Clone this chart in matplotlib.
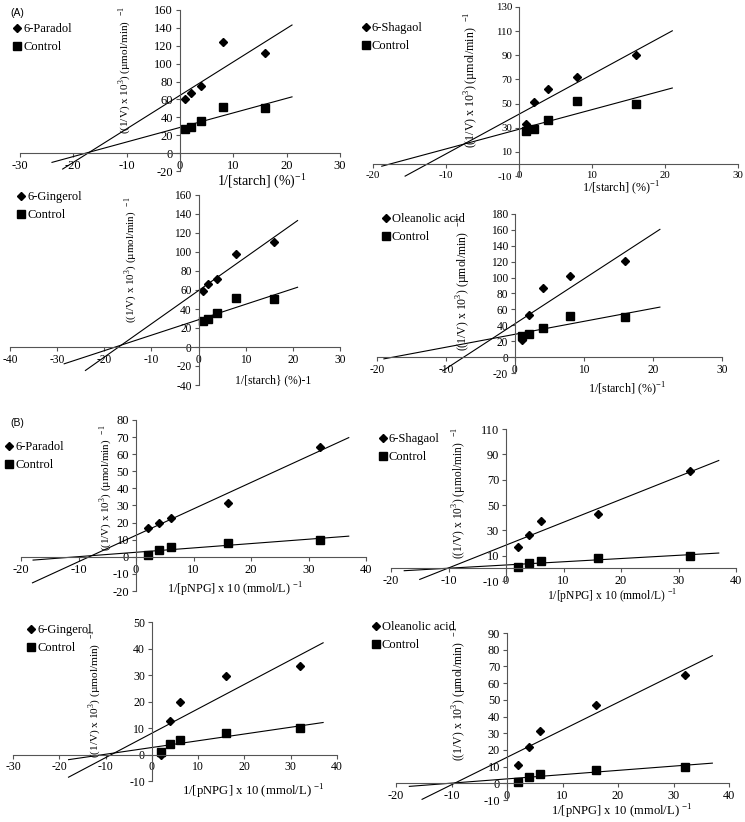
import numpy as np
import matplotlib
matplotlib.use("Agg")
import matplotlib.pyplot as plt
from matplotlib.lines import Line2D

plt.rcParams["font.family"] = ["Liberation Serif", "DejaVu Serif"]
plt.rcParams["mathtext.fontset"] = "custom"
plt.rcParams["mathtext.rm"] = "Liberation Serif"
plt.rcParams["axes.unicode_minus"] = False
plt.rcParams["font.size"] = 8

W, H = 745, 822

# (A) alpha-amylase: 1/[starch]
starch_x = [1, 2, 4, 8, 16]
starch_control = [27, 29, 36, 52, 50]
paradol_a = [61, 67, 75, 124, 112]
shagaol_a = [33, 51, 62, 72, 90]
gingerol_a = [59, 66, 72, 98, 111]
oleanolic_a = [22, 53, 87, 102, 121]

# (B) alpha-glucosidase: 1/[pNPG]
pnpg_x = [2, 4, 6, 16, 32]
pnpg_control = [1, 4, 5.5, 8, 10]
paradol_b = [17, 20, 22.5, 31.5, 64.5]
shagaol_b = [17, 26, 37, 43, 77]
gingerol_b = [0, 12.5, 20, 29.5, 33.5]
oleanolic_b = [11, 22, 31.5, 47, 65]

compounds = ["6-Paradol", "6-Shagaol", "6-Gingerol", "Oleanolic acid"] * 2

# trendline extents (forecast backward / forward)
line_start = [(-22, -24), (-15.6, -18.8), (-24, -28.5), (-10.5, -19),
              (-18, -17.9), (-15, -17.7), (-18, -18), (-15.3, -17.6)]
line_end = [21] * 4 + [37] * 4

xlab_a = "1/[starch] (%)$^{-1}$"
xlab_b = "1/[pNPG] x 10 (mmol/L) $^{-1}$"
ylab = "((1/V) x 10$^3$) (µmol/min)  $^{-1}$"

panels = [
    dict(x=starch_x, y=paradol_a, c=starch_control, xlim=(-30, 30), ylim=(-20, 160),
         yt=np.arange(-20, 161, 20), box=(20, 340, 10, 171), xlab=xlab_a,
         xl=(262, 181), yl=(125, 70), leg=(13, 23), fs=(9, 10, 8)),
    dict(x=starch_x, y=shagaol_a, c=starch_control, xlim=(-20, 30), ylim=(-10, 130),
         yt=np.arange(-10, 131, 20), box=(373, 738, 7, 176), xlab=xlab_a,
         xl=(621, 188), yl=(472, 80), leg=(362, 22), fs=(7.8, 8.7, 8.6)),
    dict(x=starch_x, y=gingerol_a, c=starch_control, xlim=(-40, 30), ylim=(-40, 160),
         yt=np.arange(-40, 161, 20), box=(10, 340, 195, 385),
         xlab="1/[starch} (%)-1", xl=(273, 380), yl=(131, 260), leg=(17, 191),
         fs=(8.3, 8.4, 7.9)),
    dict(x=starch_x, y=oleanolic_a, c=starch_control, xlim=(-20, 30), ylim=(-20, 180),
         yt=np.arange(-20, 181, 20), box=(377, 722, 214, 373), xlab=xlab_a,
         xl=(627, 389), yl=(464, 283), leg=(382, 213), fs=(8.3, 8.7, 8.5)),
    dict(x=pnpg_x, y=paradol_b, c=pnpg_control, xlim=(-20, 40), ylim=(-20, 80),
         yt=np.arange(-20, 81, 10), box=(21, 366, 420, 591), xlab=xlab_b,
         xl=(235, 590), yl=(106, 488), leg=(5, 441), fs=(9, 8.7, 7.9)),
    dict(x=pnpg_x, y=shagaol_b, c=pnpg_control, xlim=(-20, 40), ylim=(-10, 110),
         yt=np.arange(-10, 111, 20), box=(391, 736, 429, 581), xlab=xlab_b,
         xl=(612, 597), yl=(460, 493), leg=(379, 433), fs=(8.8, 8.4, 8.3)),
    dict(x=pnpg_x, y=gingerol_b, c=pnpg_control, xlim=(-30, 40), ylim=(-10, 50),
         yt=np.arange(-10, 51, 10), box=(13, 337, 622, 781), xlab=xlab_b,
         xl=(253, 792), yl=(95, 693), leg=(27, 624), fs=(8.5, 9.2, 8.1)),
    dict(x=pnpg_x, y=oleanolic_b, c=pnpg_control, xlim=(-20, 40), ylim=(-10, 90),
         yt=np.arange(-10, 91, 10), box=(396, 729, 633, 800), xlab=xlab_b,
         xl=(622, 812), yl=(460, 693), leg=(372, 621), fs=(8.8, 9.1, 8.5)),
]

fig = plt.figure(figsize=(W / 100, H / 100), dpi=100)

for i, p in enumerate(panels):
    ts, xs, ys_ = p["fs"]
    l, r, t, b = p["box"]
    ax = fig.add_axes([l / W, 1 - b / H, (r - l) / W, (b - t) / H])
    ax.patch.set_alpha(0)
    ax.set_xlim(*p["xlim"])
    ax.set_ylim(*p["ylim"])
    ax.spines["left"].set_position(("data", 0))
    ax.spines["bottom"].set_position(("data", 0))
    ax.spines["top"].set_visible(False)
    ax.spines["right"].set_visible(False)
    for s in ("left", "bottom"):
        ax.spines[s].set_color("#555555")
        ax.spines[s].set_linewidth(0.8)
    ax.set_xticks(np.arange(p["xlim"][0], p["xlim"][1] + 1, 10))
    ax.set_yticks(p["yt"])
    ax.tick_params(direction="out", length=3, width=0.8, color="#555555",
                   labelsize=ts, pad=2)

    x = np.array(p["x"], dtype=float)
    s0, s1 = line_start[i]
    for ys, start, mk, ms in [(p["y"], s0, "D", 4), (p["c"], s1, "s", 5.5)]:
        k, b0 = np.polyfit(x, ys, 1)
        xx = np.array([start, line_end[i]])
        ax.plot(xx, k * xx + b0, color="black", lw=0.8, clip_on=False)
        ax.plot(x, ys, ls="none", marker=mk, ms=ms, color="black", clip_on=False)

    fig.text(p["xl"][0] / W, 1 - p["xl"][1] / H, p["xlab"], ha="center",
             va="center", fontsize=xs)
    fig.text(p["yl"][0] / W, 1 - p["yl"][1] / H, ylab, ha="center",
             va="center", rotation=90, fontsize=ys_)

    handles = [Line2D([], [], ls="none", marker="D", ms=4, color="black"),
               Line2D([], [], ls="none", marker="s", ms=5.5, color="black")]
    ax.legend(handles, [compounds[i], "Control"], loc="upper left",
              bbox_to_anchor=(p["leg"][0] / W, 1 - p["leg"][1] / H),
              bbox_transform=fig.transFigure, frameon=False, fontsize=9,
              handlelength=0.6, handletextpad=0.2, labelspacing=0.5,
              borderpad=0, borderaxespad=0)

fig.text(10 / W, 1 - 13 / H, "(A)", family="Liberation Sans", fontsize=7.5,
         ha="left", va="center")
fig.text(10 / W, 1 - 423 / H, "(B)", family="Liberation Sans", fontsize=7.5,
         ha="left", va="center")

fig.savefig("out.png", dpi=100)
